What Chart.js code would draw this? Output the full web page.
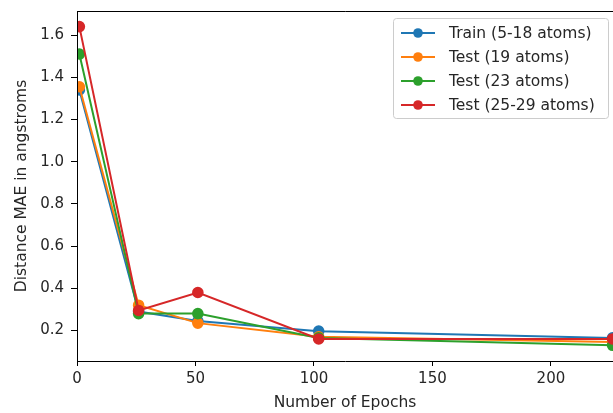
<!DOCTYPE html>
<html>
<head>
<meta charset="utf-8">
<script src="https://cdn.jsdelivr.net/npm/chart.js@4/dist/chart.umd.min.js"></script>
<style>
  html, body { margin: 0; padding: 0; background: #fff; overflow: hidden; }
  #wrap { width: 613px; height: 413px; }
</style>
</head>
<body>
<div id="wrap"><canvas id="mae-chart" width="613" height="413"></canvas></div>
<script>
// epochs and MAE values
const epochs = [1, 26, 51, 102, 226];
const trainMae = [1.34, 0.29, 0.245, 0.197, 0.165];
const test19Mae = [1.355, 0.32, 0.235, 0.17, 0.145];
const test23Mae = [1.51, 0.28, 0.28, 0.165, 0.13];
const test25Mae = [1.64, 0.295, 0.38, 0.16, 0.16];
const seriesLabels = ['Train (5-18 atoms)', 'Test (19 atoms)', 'Test (23 atoms)', 'Test (25-29 atoms)'];
const seriesColors = ['#1f77b4', '#ff7f0e', '#2ca02c', '#d62728'];
const yTicks = [0.2, 0.4, 0.6, 0.8, 1.0, 1.2, 1.4, 1.6];

const FONT = "'DejaVu Sans', sans-serif";
const allSeries = [trainMae, test19Mae, test23Mae, test25Mae];

const datasets = allSeries.map((vals, i) => ({
    label: seriesLabels[i],
    data: vals.map((v, j) => ({ x: epochs[j], y: v })),
    borderColor: seriesColors[i],
    backgroundColor: seriesColors[i],
    pointBackgroundColor: seriesColors[i],
    pointBorderColor: seriesColors[i],
    borderWidth: 2,
    pointRadius: 4.8,
    pointHoverRadius: 4.8,
    tension: 0,
    order: 4 - i
}));

// matplotlib-like box: left + top spine, plus legend box in the upper right
const framePlugin = {
    id: 'frame',
    afterDraw(chart) {
        const ctx = chart.ctx;
        const a = chart.chartArea;
        ctx.save();
        ctx.strokeStyle = '#000';
        ctx.lineWidth = 1;
        ctx.beginPath();
        ctx.moveTo(a.left + 0.5, a.bottom);
        ctx.lineTo(a.left + 0.5, a.top + 0.5);
        ctx.lineTo(a.right + 2, a.top + 0.5);
        ctx.stroke();

        // legend
        const bx = 393, by = 18, bw = 215, bh = 100;
        ctx.fillStyle = 'rgba(255,255,255,0.8)';
        ctx.strokeStyle = '#cccccc';
        ctx.beginPath();
        ctx.roundRect(bx + 0.5, by + 0.5, bw, bh, 3);
        ctx.fill();
        ctx.stroke();
        ctx.font = '15.5px ' + FONT;
        ctx.textBaseline = 'middle';
        chart.data.datasets.forEach((ds, i) => {
            const y = 33 + i * 24;
            ctx.strokeStyle = ds.borderColor;
            ctx.lineWidth = 2;
            ctx.beginPath();
            ctx.moveTo(401, y);
            ctx.lineTo(435, y);
            ctx.stroke();
            ctx.fillStyle = ds.borderColor;
            ctx.beginPath();
            ctx.arc(418, y, 4.8, 0, Math.PI * 2);
            ctx.fill();
            ctx.fillStyle = '#262626';
            ctx.fillText(ds.label, 449, y + 1);
        });
        ctx.restore();
    }
};

new Chart(document.getElementById('mae-chart'), {
    type: 'line',
    data: { datasets: datasets },
    plugins: [framePlugin],
    options: {
        responsive: false,
        animation: false,
        events: [],
        layout: { autoPadding: false, padding: { top: 11, right: 0, left: 0, bottom: 0 } },
        plugins: {
            legend: { display: false },
            tooltip: { enabled: false }
        },
        scales: {
            x: {
                type: 'linear',
                min: 0,
                max: 226.2,
                afterFit(scale) {
                    scale.height = 52;
                    scale.paddingLeft = 0;
                    scale.paddingRight = 0;
                },
                ticks: {
                    stepSize: 50,
                    includeBounds: false,
                    maxRotation: 0,
                    color: '#262626',
                    padding: 4,
                    font: { family: FONT, size: 15 }
                },
                grid: { drawOnChartArea: false, drawTicks: true, tickLength: 5, color: '#000' },
                border: { display: true, color: '#000', width: 1 },
                title: {
                    display: true,
                    text: 'Number of Epochs',
                    color: '#262626',
                    font: { family: FONT, size: 15.5 },
                    padding: { top: 0, bottom: 1 }
                }
            },
            y: {
                type: 'linear',
                min: 0.0555,
                max: 1.714,
                afterFit(scale) {
                    scale.width = 77;
                    scale.paddingTop = 0;
                    scale.paddingBottom = 0;
                },
                afterBuildTicks(scale) { scale.ticks = yTicks.map(v => ({ value: v })); },
                ticks: {
                    color: '#262626',
                    padding: 7,
                    font: { family: FONT, size: 15 },
                    callback: v => v.toFixed(1)
                },
                grid: { drawOnChartArea: false, drawTicks: true, tickLength: 6, color: '#000' },
                border: { display: true, color: '#000', width: 1 },
                title: {
                    display: true,
                    text: 'Distance MAE in angstroms',
                    color: '#262626',
                    font: { family: FONT, size: 15.5 },
                    padding: { top: 13, bottom: 0 }
                }
            }
        }
    }
});
</script>
</body>
</html>
